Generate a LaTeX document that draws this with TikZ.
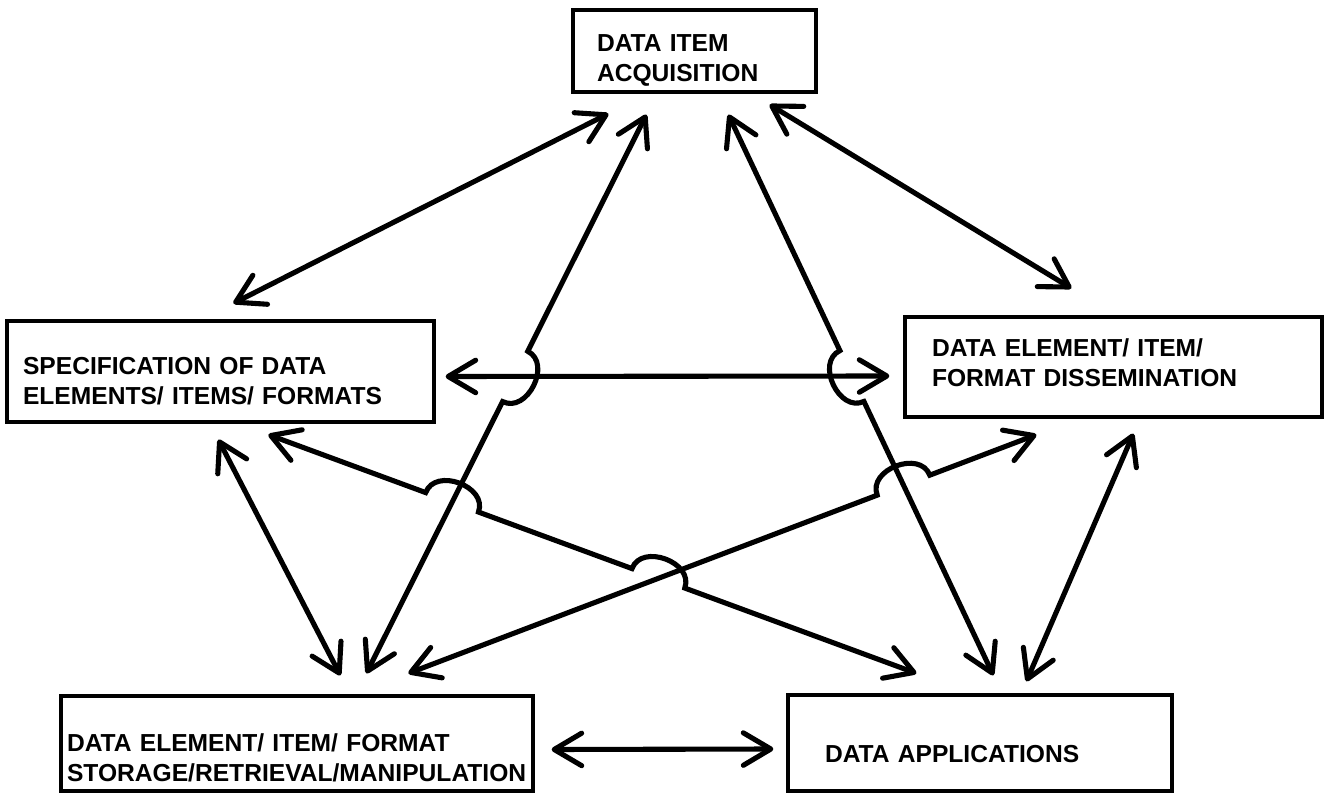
\documentclass[tikz,border=0pt]{standalone}
\usepackage{fontspec}
\setmainfont{Liberation Sans}
\usetikzlibrary{arrows.meta,calc,intersections}
\tikzstyle{box} = [draw=black, line width=1.9pt, align=left, inner sep=0pt, font={\fontsize{14pt}{17pt}\selectfont\bfseries}]
\tikzstyle{link} = [line width=2.9pt, line cap=round, {Straight Barb[length=5.5mm,width=6.5mm,round]}-{Straight Barb[length=5.5mm,width=6.5mm,round]}]
\tikzstyle{hop} = [bend left=90, looseness=1.25]
\def\hr{16pt}
\newcommand{\lift}[2][0pt]{\rule[-#1]{0pt}{#2}}

\begin{document}
\begin{tikzpicture}[x=0.02cm, y=-0.02cm]
  \useasboundingbox (0,0) rectangle (1328,793);
  \node[box, minimum width=4.86cm, minimum height=1.64cm, text width=3.9cm](acq) at (694.5,51){\lift{20pt}DATA ITEM\\ACQUISITION};
  \node[box, minimum width=8.54cm, minimum height=2.02cm, text width=7.9cm](spec) at (220.5,371.5){\lift{21pt}SPECIFICATION OF DATA\\ELEMENTS/ ITEMS/ FORMATS};
  \node[box, minimum width=8.34cm, minimum height=2cm, text width=7.26cm](diss) at (1113.5,367){DATA ELEMENT/ ITEM/\\FORMAT DISSEMINATION\lift[5.5pt]{5.5pt}};
  \node[box, minimum width=9.44cm, minimum height=1.9cm, text width=9.2cm](stor) at (297,743.5){\lift{26.5pt}DATA ELEMENT/ ITEM/ FORMAT\\STORAGE/RETRIEVAL/MANIPULATION};
  \node[box, minimum width=7.68cm, minimum height=1.92cm, text width=6.2cm](appl) at (980,743){\lift{22pt}DATA APPLICATIONS};
  % plain links
  \draw[link] ([shift={(37,20)}]acq.south west) -- ([shift={(228,-16)}]spec.north west);
  \draw[link] ([shift={(-48,11)}]acq.south east) -- ([shift={(168,-27)}]diss.north west);
  \draw[link, name path=mid] ([shift={(10,5)}]spec.east) -- ([shift={(-14,9)}]diss.west);
  \draw[link] ([shift={(213,16)}]spec.south west) -- ([shift={(281,-19)}]stor.north west);
  \draw[link] ([shift={(230,15)}]diss.south west) -- ([shift={(240,-12)}]appl.north west);
  \draw[link] ([shift={(17,6)}]stor.east) -- ([shift={(-13,6)}]appl.west);
  % links that hop over others
  \coordinate (p1) at ([shift={(75,21)}]acq.south west);
  \coordinate (q1) at ([shift={(307,-21)}]stor.north west);
  \coordinate (p2) at ([shift={(157,21)}]acq.south west);
  \coordinate (q2) at ([shift={(207,-18)}]appl.north west);
  \coordinate (p3) at ([shift={(263,11)}]spec.south west);
  \coordinate (q3) at ([shift={(130,-20)}]appl.north west);
  \coordinate (p4) at ([shift={(133,16)}]diss.south west);
  \coordinate (q4) at ([shift={(349,-21)}]stor.north west);
  \path[name path=l1] (p1) -- (q1);
  \path[name path=l2] (p2) -- (q2);
  \path[name path=l3] (p3) -- (q3);
  \path[name path=l4] (p4) -- (q4);
  \path[name intersections={of=l1 and mid, by=x1}];
  \path[name intersections={of=l2 and mid, by=x2}];
  \path[name intersections={of=l3 and l1, by=x3}];
  \path[name intersections={of=l3 and l4, by=x4}];
  \path[name intersections={of=l4 and l2, by=x5}];
  \draw[link] (p1) -- ($(x1)!\hr!(p1)$) to[hop] ($(x1)!\hr!(q1)$) -- (q1);
  \draw[link] (q2) -- ($(x2)!\hr!(q2)$) to[hop] ($(x2)!\hr!(p2)$) -- (p2);
  \draw[link] (p3) -- ($(x3)!\hr!(p3)$) to[hop] ($(x3)!\hr!(q3)$)
    -- ($(x4)!\hr!(p3)$) to[hop] ($(x4)!\hr!(q3)$) -- (q3);
  \draw[link] (q4) -- ($(x5)!\hr!(q4)$) to[hop] ($(x5)!\hr!(p4)$) -- (p4);
\end{tikzpicture}
\end{document}
